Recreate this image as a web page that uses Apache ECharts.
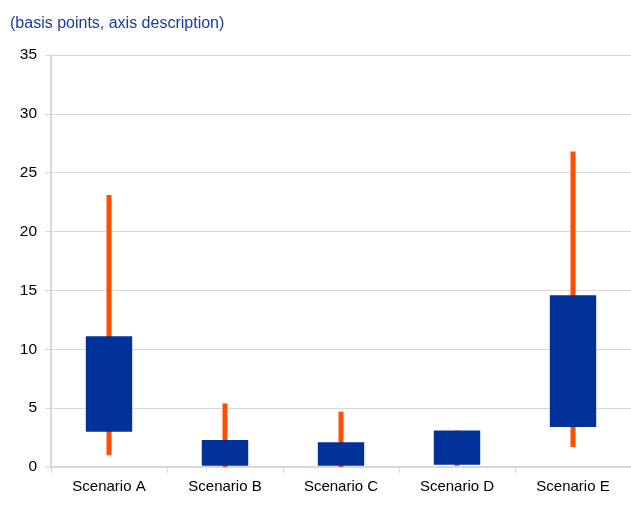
<!DOCTYPE html>
<html><head><meta charset="utf-8">
<script src="https://cdn.jsdelivr.net/npm/echarts@6/dist/echarts.min.js"></script>
<style>html,body{margin:0;padding:0;background:#fff}#c{width:631px;height:507px}</style>
</head><body><div id="c"></div>
<script>
const categories = ['Scenario A','Scenario B','Scenario C','Scenario D','Scenario E'];
const whiskerLow  = [1.0, 0.0, 0.0, 0.1, 1.7];
const whiskerHigh = [23.1, 5.4, 4.7, 3.1, 26.8];
const boxLow  = [3.0, 0.1, 0.1, 0.2, 3.4];
const boxHigh = [11.1, 2.3, 2.1, 3.1, 14.6];
const yTicks = [0,5,10,15,20,25,30,35];

const chart = echarts.init(document.getElementById('c'), null, {renderer:'canvas'});
const font = 'Arial, "Liberation Sans", sans-serif';
function rangeData(lo, hi){ return categories.map((c,i)=>[i, lo[i], hi[i]]); }
function makeRender(widthFrac, fixedW, color){
  return function(params, api){
    const i = api.value(0);
    const p1 = api.coord([i, api.value(1)]);
    const p2 = api.coord([i, api.value(2)]);
    const bw = fixedW || api.size([1,0])[0]*widthFrac;
    return {type:'rect', shape:{x:p1[0]-bw/2, y:p2[1], width:bw, height:p1[1]-p2[1]}, style:{fill:color}};
  };
}
chart.setOption({
  animation:false,
  title:{text:'(basis points, axis description)', left:5, top:11, textStyle:{fontFamily:font, fontSize:16, fontWeight:'normal', color:'#1a3c9c'}},
  grid:{left:51, right:0, top:55, bottom:40},
  xAxis:{type:'category', data:categories, boundaryGap:true,
    axisLine:{lineStyle:{color:'#d9d9d9', width:2}},
    axisTick:{show:true, length:6, lineStyle:{color:'#d9d9d9', width:1}},
    axisLabel:{fontFamily:font, fontSize:15, color:'#000', margin:12}},
  yAxis:{type:'value', min:yTicks[0], max:yTicks[yTicks.length-1], interval:5,
    axisLine:{show:true, lineStyle:{color:'#d9d9d9', width:2}},
    axisTick:{show:true, length:6, lineStyle:{color:'#d9d9d9'}},
    splitLine:{lineStyle:{color:'#d9d9d9', width:1}},
    axisLabel:{fontFamily:font, fontSize:15.5, color:'#000', margin:14}},
  series:[
    {type:'custom', renderItem:makeRender(0, 5, '#ff4e00'), data:rangeData(whiskerLow, whiskerHigh), encode:{x:0, y:[1,2]}, z:2},
    {type:'custom', renderItem:makeRender(0.4, 0, '#003299'), data:rangeData(boxLow, boxHigh), encode:{x:0, y:[1,2]}, z:3}
  ]
});
</script></body></html>
